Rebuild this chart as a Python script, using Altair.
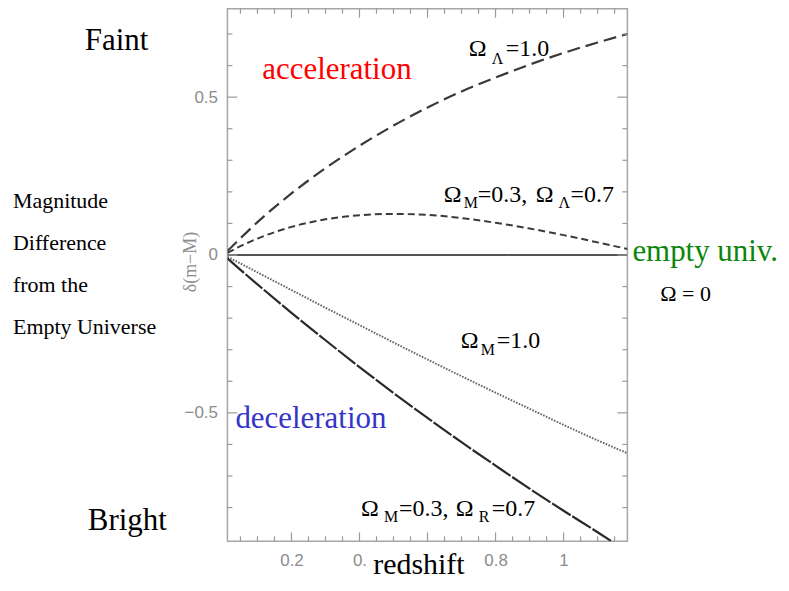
import altair as alt
import pandas as pd

# ---------------- data ----------------
redshift = [0.012, 0.05, 0.1, 0.2, 0.3, 0.4, 0.5, 0.6, 0.7, 0.8, 0.9, 1.0, 1.1, 1.188]
delta_lambda1 = [0.013, 0.053, 0.104, 0.195, 0.275, 0.346, 0.410, 0.467, 0.518, 0.562, 0.603, 0.640, 0.673, 0.700]
delta_lcdm = [0.007, 0.028, 0.052, 0.089, 0.113, 0.126, 0.130, 0.127, 0.117, 0.102, 0.084, 0.063, 0.040, 0.019]
delta_empty = [0.0, 0.0, 0.0, 0.0, 0.0, 0.0, 0.0, 0.0, 0.0, 0.0, 0.0, 0.0, 0.0, 0.0]
delta_matter = [-0.006, -0.027, -0.055, -0.111, -0.167, -0.222, -0.277, -0.331, -0.384, -0.436, -0.487, -0.538, -0.587, -0.628]
delta_radiation = [-0.011, -0.047, -0.093, -0.183, -0.270, -0.355, -0.437, -0.516, -0.593, -0.667, -0.740, -0.810, -0.878, -0.940]

x_major_ticks = [0.2, 0.4, 0.6, 0.8, 1.0]
x_minor_ticks = [0.05, 0.1, 0.15, 0.25, 0.3, 0.35, 0.45, 0.5, 0.55, 0.65, 0.7, 0.75,
                 0.85, 0.9, 0.95, 1.05, 1.1, 1.15]
y_major_ticks = [-0.5, 0.0, 0.5]
y_minor_ticks = [-0.8, -0.7, -0.6, -0.4, -0.3, -0.2, -0.1, 0.1, 0.2, 0.3, 0.4, 0.6, 0.7]

W, H = 401, 534
SERIF = "Liberation Serif"
TICK_COLOR = "#9a9a9a"

xs = alt.Scale(domain=[0.0117, 1.1877], nice=False, zero=False)
ys = alt.Scale(domain=[-0.907, 0.780], nice=False, zero=False)

x_axis = alt.Axis(values=x_major_ticks, ticks=False, tickSize=0, domain=False, grid=False,
                  title=None, labelFont="Liberation Sans", labelFontSize=17,
                  labelColor="#8c8c8c", labelPadding=11,
                  labelExpr="datum.value == 0.4 ? '0.' : (datum.value == 0.6 ? '' : (datum.value == 1 ? '1' : format(datum.value, '.1f')))")
y_axis = alt.Axis(values=y_major_ticks, ticks=False, tickSize=0, domain=False, grid=False,
                  title=None, labelFont="Liberation Sans", labelFontSize=17,
                  labelColor="#8c8c8c", labelPadding=10,
                  labelExpr="datum.value == 0 ? '0' : format(datum.value, '.1f')")


def X(field):
    return alt.X(field, type="quantitative", scale=xs, axis=x_axis)


def Y(field):
    return alt.Y(field, type="quantitative", scale=ys, axis=y_axis)


layers = []

# ---------------- curves ----------------
curves = [
    (delta_lambda1, "#3a3a3a", [13, 6], 2.2),
    (delta_lcdm, "#3a3a3a", [7, 4], 2.0),
    (delta_empty, "#555555", [1, 0], 2.0),
    (delta_matter, "#666666", [1.6, 1.4], 2.0),
    (delta_radiation, "#2a2a2a", [22, 2], 2.2),
]
for values, col, dash, sw in curves:
    df = pd.DataFrame({"z": redshift, "d": values})
    layers.append(
        alt.Chart(df).mark_line(clip=True, color=col, strokeDash=dash, strokeWidth=sw,
                                strokeCap="butt", interpolate="monotone")
        .encode(x=X("z"), y=Y("d"))
    )

# ---------------- inward ticks on all four sides ----------------
def xticks(vals, length):
    df = pd.DataFrame({"v": vals})
    bottom = alt.Chart(df).mark_rule(color=TICK_COLOR, strokeWidth=1.2).encode(
        x=X("v"), y=alt.value(H), y2=alt.value(H - length))
    top = alt.Chart(df).mark_rule(color=TICK_COLOR, strokeWidth=1.2).encode(
        x=X("v"), y=alt.value(0), y2=alt.value(length))
    return [bottom, top]


def yticks(vals, length):
    df = pd.DataFrame({"v": vals})
    left = alt.Chart(df).mark_rule(color=TICK_COLOR, strokeWidth=1.2).encode(
        y=Y("v"), x=alt.value(0), x2=alt.value(length))
    right = alt.Chart(df).mark_rule(color=TICK_COLOR, strokeWidth=1.2).encode(
        y=Y("v"), x=alt.value(W), x2=alt.value(W - length))
    return [left, right]


layers += xticks(x_minor_ticks, 5) + xticks(x_major_ticks, 9)
layers += yticks(y_minor_ticks, 5) + yticks(y_major_ticks, 10)

# ---------------- annotations ----------------
one = pd.DataFrame({"k": [0]})


def txt(s, x, y, size, color="black", font=SERIF, align="left", baseline="alphabetic", angle=0):
    return alt.Chart(one).mark_text(text=s, fontSize=size, font=font, color=color,
                                    align=align, baseline=baseline, angle=angle).encode(
        x=alt.value(x), y=alt.value(y))


big = 31
layers += [
    txt("Faint", -143, 41, big),
    txt("Bright", -140, 523, big),
    txt("acceleration", 35, 70, big, color="#ff0000"),
    txt("deceleration", 8, 420, big, color="#3535c8"),
    txt("empty univ.", 406, 253, big, color="#0b860b"),
    txt("Ω = 0", 434, 293, 22),
    txt("redshift", 192, 567, 30, align="center"),
    txt("δ(m−M)", -37, 254, 18, color="#8c8c8c", align="center", baseline="middle", angle=270),
]

side_lines = ["Magnitude", "Difference", "from the", "Empty Universe"]
for i, s in enumerate(side_lines):
    layers.append(txt(s, -215, 200 + i * 42, 22))

M, S = 24, 16
omega_parts = [
    ("Ω", 242, 47, M), ("Λ", 265, 55, S), ("=1.0", 279, 47, M),
    ("Ω", 217, 194, M), ("M", 237, 200, S), ("=0.3,", 251, 194, M),
    ("Ω", 309, 194, M), ("Λ", 332, 200, S), ("=0.7", 344, 194, M),
    ("Ω", 234, 340, M), ("M", 254, 347, S), ("=1.0", 270, 340, M),
    ("Ω", 134, 509, M), ("M", 157, 515, S), ("=0.3,", 172, 509, M),
    ("Ω", 229, 509, M), ("R", 252, 515, S), ("=0.7", 265, 509, M),
]
for s, x, y, size in omega_parts:
    layers.append(txt(s, x, y, size))

chart = alt.layer(*layers).properties(
    width=W, height=H,
    autosize=alt.AutoSizeParams(type="none"),
    padding={"left": 220, "top": 0, "right": 154, "bottom": 41},
    background="white",
).configure_view(stroke="#a6a6a6", strokeWidth=1.5)

chart.save("out.html", embed_options={"renderer": "svg", "actions": False})
